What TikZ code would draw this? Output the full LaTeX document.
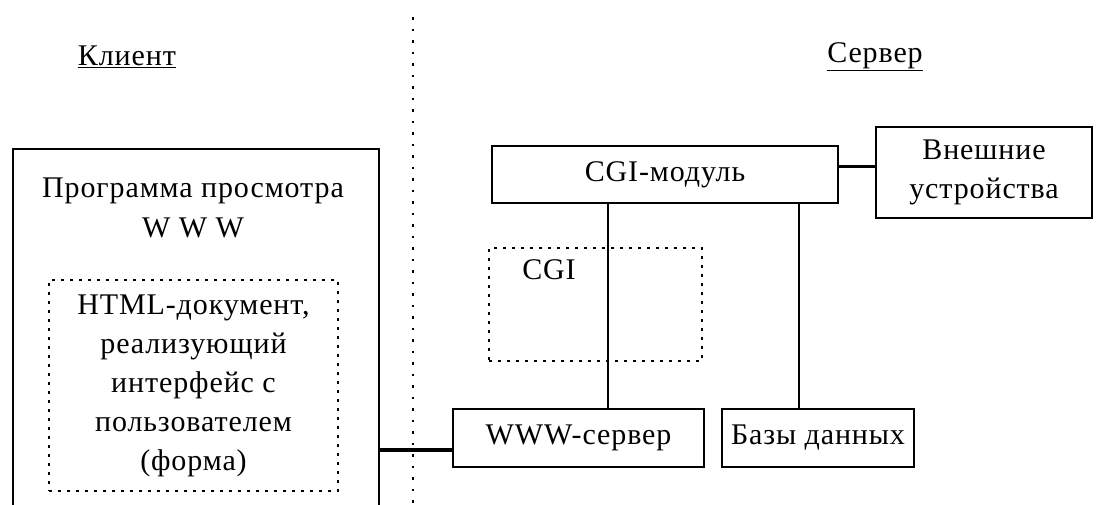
\documentclass[tikz,border=0pt]{standalone}
\usepackage{fontspec}
\setmainfont{Liberation Serif}[LetterSpace=3]

\begin{document}
\begin{tikzpicture}[x=1pt, y=-1pt,
  box/.style={draw, line width=1.6pt, inner sep=0pt, align=center,
    font=\fontsize{30}{39}\selectfont},
  dotbox/.style={box, line width=1.8pt, dash pattern=on 3pt off 6pt},
  txt/.style={align=center, font=\fontsize{30}{40}\selectfont},
  wire/.style={line width=1.6pt},
  link/.style={line width=3.6pt},
  divider/.style={line width=2.4pt, dash pattern=on 2.5pt off 9pt}]

  \useasboundingbox (0,0) rectangle (1096,504);
  \clip (0,0) rectangle (1096,504);

  % -------------------------
  % Headings and divider
  % -------------------------
  \node[txt] (clienthead) at (127,57) {\underline{Клиент}};
  \node[txt] (serverhead) at (875,57) {\underline{Сервер}};

  \coordinate (divtop) at (413,17);
  \coordinate (divbot) at (413,504);
  \draw[divider] (divtop) -- (divbot);

  % -------------------------
  % Client side
  % -------------------------
  \node[box, anchor=north west, minimum width=366pt, minimum height=400pt]
    (client) at (12,148) {};
  \node[txt] (viewer) at (193,208) {Программа просмотра\\W W W};

  \node[dotbox, minimum width=289pt, minimum height=211pt] (html) at (193.5,385.5)
    {HTML-документ,\\реализующий\\интерфейс с\\пользователем\\(форма)};

  % -------------------------
  % Server side
  % -------------------------
  \node[box, minimum width=346pt, minimum height=57pt] (cgimod) at (665,174.5) {CGI-модуль};
  \node[box, minimum width=216pt, minimum height=91pt] (ext) at (984,172.5) {Внешние\\устройства};

  \node[dotbox, minimum width=213pt, minimum height=113pt] (cgi) at (595.5,304.5) {};
  \node[txt] (cgilabel) at (549,270) {CGI};

  \node[box, minimum width=251pt, minimum height=58pt] (www) at (578.5,438) {WWW-сервер};
  \node[box, minimum width=192pt, minimum height=58pt] (db) at (818,438) {Базы данных};

  % connections
  \coordinate (wwwport) at ([yshift=-12pt]www.west);
  \draw[link] (wwwport) -- (wwwport -| client.east);

  \coordinate (extport) at ([yshift=6pt]ext.west);
  \draw[link] (extport) -- (extport -| cgimod.east);

  \draw[wire] ([xshift=29.5pt]www.north) -- ([xshift=29.5pt]www.north |- cgimod.south);
  \draw[wire] ([xshift=-19pt]db.north) -- ([xshift=-19pt]db.north |- cgimod.south);

\end{tikzpicture}
\end{document}
